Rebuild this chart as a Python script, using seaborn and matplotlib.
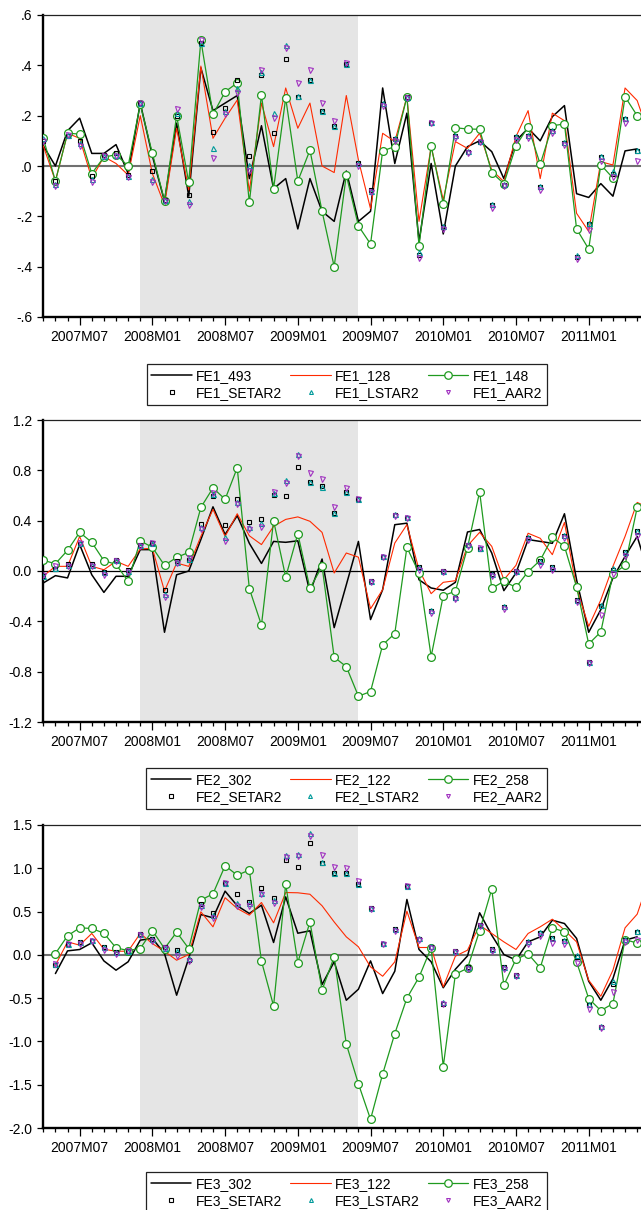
import numpy as np
import pandas as pd
import matplotlib
matplotlib.use("Agg")
import matplotlib.pyplot as plt
from matplotlib.lines import Line2D
import seaborn as sns

nan = np.nan

# ---------------- data ----------------
months = [f"{p.year}M{p.month:02d}" for p in pd.period_range("2007-04", "2011-06", freq="M")]
xtick_labels = ["2007M07", "2008M01", "2008M07", "2009M01", "2009M07", "2010M01", "2010M07", "2011M01"]
recession = ("2007M12", "2009M06")

# Panel 1
FE1_493 = [0.08, 0.0, 0.14, 0.19, 0.05, 0.05, 0.085, -0.03, 0.25, 0.04,
           -0.14, 0.17, -0.12, 0.39, 0.22, 0.25, 0.28, -0.05, 0.16, -0.09,
           -0.05, -0.25, -0.05, -0.18, -0.22, -0.02, -0.22, -0.18, 0.31, 0.01,
           0.21, -0.30, 0.01, -0.27, 0.0, 0.077, 0.10, 0.057, -0.05, 0.10,
           0.15, 0.10, 0.196, 0.24, -0.11, -0.125, -0.07, -0.12, 0.06, 0.068]
FE1_128 = [0.08, -0.06, 0.13, 0.11, -0.05, 0.037, 0.01, -0.036, 0.20, -0.03,
           -0.155, 0.15, -0.095, 0.397, 0.11, 0.19, 0.262, -0.10, 0.25, 0.077,
           0.31, 0.15, 0.25, 0.0, -0.026, 0.28, 0.024, -0.17, 0.13, 0.097,
           0.275, -0.22, 0.077, -0.135, 0.097, 0.07, 0.13, -0.016, -0.062, 0.117,
           0.22, -0.05, 0.21, 0.18, -0.188, -0.26, 0.017, 0.004, 0.31, 0.26,
           0.12]
FE1_148 = [0.11, -0.06, 0.13, 0.127, -0.03, 0.035, 0.045, 0.0, 0.245, 0.05,
           -0.138, 0.20, -0.065, 0.50, 0.205, 0.295, 0.33, -0.145, 0.283, -0.09,
           0.27, -0.06, 0.063, -0.18, -0.40, -0.036, -0.238, -0.31, 0.06, 0.077,
           0.275, -0.318, 0.08, -0.15, 0.152, 0.147, 0.146, -0.026, -0.07, 0.08,
           0.156, 0.007, 0.16, 0.167, -0.25, -0.33, 0.005, -0.048, 0.275, 0.20]
FE1_SETAR2 = [0.10, -0.06, 0.12, 0.10, -0.04, 0.045, 0.05, -0.035, 0.25, -0.02,
              -0.135, 0.20, -0.115, 0.49, 0.135, 0.23, 0.34, 0.04, 0.36, 0.13,
              0.425, 0.275, 0.34, 0.22, 0.16, 0.405, 0.01, -0.095, 0.246, 0.106,
              0.275, -0.354, 0.172, -0.244, 0.12, 0.057, 0.097, -0.155, -0.075, 0.114,
              0.12, -0.085, 0.14, 0.09, -0.363, -0.23, 0.034, -0.03, 0.187, 0.06]
FE1_LSTAR2 = [0.11, -0.07, 0.125, 0.09, -0.05, 0.04, 0.045, -0.04, 0.25, -0.05,
              -0.135, 0.21, -0.14, 0.49, 0.07, 0.22, 0.31, 0.005, 0.375, 0.21,
              0.48, 0.28, 0.34, 0.22, 0.16, 0.405, 0.01, -0.10, 0.25, 0.11,
              0.275, -0.34, 0.175, -0.24, 0.125, 0.06, 0.10, -0.15, -0.07, 0.12,
              0.125, -0.08, 0.145, 0.095, -0.355, -0.225, 0.04, -0.02, 0.19, 0.065]
FE1_AAR2 = [0.10, -0.08, 0.125, 0.08, -0.065, 0.04, 0.04, -0.045, 0.25, -0.065,
            -0.14, 0.225, -0.155, 0.50, 0.03, 0.205, 0.29, -0.02, 0.38, 0.19,
            0.47, 0.33, 0.38, 0.25, 0.18, 0.41, 0.0, -0.105, 0.24, 0.10,
            0.27, -0.365, 0.17, -0.25, 0.11, 0.05, 0.095, -0.165, -0.08, 0.105,
            0.11, -0.095, 0.13, 0.085, -0.37, -0.255, 0.02, -0.045, 0.17, 0.02]

# Panel 2
FE2_302 = [-0.095, -0.037, -0.055, 0.21, -0.03, -0.17, -0.042, -0.042, 0.17, 0.17,
           -0.487, -0.03, 0.0, 0.25, 0.51, 0.29, 0.44, 0.22, 0.06, 0.235,
           0.228, 0.24, -0.17, 0.095, -0.45, -0.11, 0.235, -0.386, -0.148, 0.368,
           0.38, -0.07, -0.135, -0.153, -0.09, 0.31, 0.33, 0.143, -0.156, -0.016,
           0.25, 0.235, 0.22, 0.455, -0.07, -0.487, -0.307, -0.055, 0.116, 0.275,
           -0.04]
FE2_122 = [-0.04, 0.037, 0.037, 0.275, 0.037, 0.01, 0.077, 0.037, 0.175, 0.18,
           -0.16, 0.063, 0.037, 0.275, 0.49, 0.275, 0.455, 0.28, 0.21, 0.355,
           0.41, 0.43, 0.395, 0.307, -0.016, 0.143, 0.11, -0.30, -0.148, 0.222,
           0.368, 0.01, -0.18, -0.09, -0.077, 0.20, 0.307, 0.196, -0.069, 0.045,
           0.30, 0.26, 0.13, 0.386, -0.135, -0.44, -0.23, 0.037, 0.275, 0.545,
           0.50]
FE2_258 = [0.085, 0.058, 0.164, 0.307, 0.228, 0.082, 0.053, -0.082, 0.24, 0.188,
           0.045, 0.108, 0.148, 0.505, 0.66, 0.57, 0.82, -0.14, -0.43, 0.40,
           -0.048, 0.296, -0.138, 0.037, -0.685, -0.76, -0.995, -0.958, -0.587, -0.497,
           0.188, -0.016, -0.68, -0.196, -0.161, 0.185, 0.63, -0.138, -0.082, -0.13,
           -0.005, 0.085, 0.267, 0.196, -0.127, -0.58, -0.484, -0.024, 0.045, 0.505]
FE2_SETAR2 = [-0.04, 0.016, 0.058, 0.217, 0.058, -0.01, 0.09, 0.005, 0.21, 0.222,
              -0.148, 0.077, 0.09, 0.373, 0.60, 0.362, 0.57, 0.39, 0.415, 0.605,
              0.598, 0.83, 0.71, 0.672, 0.46, 0.624, 0.57, -0.082, 0.114, 0.444,
              0.42, 0.032, -0.32, 0.0, -0.214, 0.21, 0.175, -0.02, -0.29, 0.0,
              0.265, 0.077, 0.03, 0.28, -0.233, -0.725, -0.28, 0.01, 0.148, 0.315]
FE2_LSTAR2 = [-0.04, 0.02, 0.05, 0.22, 0.05, -0.01, 0.09, 0.0, 0.21, 0.22,
              -0.18, 0.07, 0.095, 0.35, 0.61, 0.27, 0.55, 0.35, 0.38, 0.62,
              0.72, 0.93, 0.71, 0.67, 0.46, 0.63, 0.575, -0.08, 0.12, 0.45,
              0.43, 0.03, -0.31, 0.0, -0.21, 0.215, 0.18, -0.02, -0.28, 0.0,
              0.27, 0.08, 0.03, 0.29, -0.23, -0.72, -0.27, 0.02, 0.15, 0.32]
FE2_AAR2 = [-0.03, 0.04, 0.04, 0.22, 0.04, -0.03, 0.08, -0.01, 0.20, 0.225,
            -0.21, 0.06, 0.10, 0.33, 0.62, 0.24, 0.53, 0.33, 0.35, 0.63,
            0.70, 0.91, 0.78, 0.73, 0.51, 0.66, 0.57, -0.09, 0.11, 0.44,
            0.42, 0.01, -0.33, -0.01, -0.22, 0.20, 0.18, -0.04, -0.30, -0.01,
            0.25, 0.05, 0.01, 0.26, -0.25, -0.73, -0.35, -0.02, 0.12, 0.28]

# Panel 3
FE3_302 = [nan, -0.216, 0.046, 0.062, 0.139, -0.07, -0.177, -0.08, 0.17, 0.19,
           0.015, -0.466, -0.04, 0.466, 0.428, 0.736, 0.567, 0.478, 0.574, 0.143,
           0.67, 0.25, 0.278, -0.343, -0.08, -0.524, -0.397, -0.07, -0.447, -0.189,
           0.64, 0.062, -0.08, -0.38, -0.166, -0.012, 0.486, 0.227, 0.004, -0.06,
           0.15, 0.208, 0.40, 0.362, 0.19, -0.305, -0.524, -0.274, 0.17, 0.208]
FE3_122 = [nan, -0.12, 0.15, 0.112, 0.247, 0.065, 0.042, 0.042, 0.247, 0.13,
           0.042, -0.062, 0.004, 0.497, 0.324, 0.66, 0.536, 0.459, 0.605, 0.37,
           0.72, 0.717, 0.70, 0.567, 0.38, 0.208, 0.093, -0.139, -0.247, -0.081,
           0.505, 0.085, 0.085, -0.37, -0.015, 0.054, 0.343, 0.247, 0.15, 0.062,
           0.247, 0.324, 0.412, 0.285, 0.15, -0.293, -0.478, -0.177, 0.312, 0.47,
           0.88]
FE3_258 = [nan, 0.015, 0.22, 0.312, 0.305, 0.25, 0.081, 0.05, 0.073, 0.28,
           0.073, 0.262, 0.073, 0.632, 0.705, 1.03, 0.92, 0.98, -0.073, -0.59,
           0.817, -0.089, 0.38, -0.405, -0.023, -1.03, -1.49, -1.90, -1.376, -0.91,
           -0.50, -0.258, 0.081, -1.29, -0.224, -0.154, 0.28, 0.76, -0.35, -0.05,
           0.012, -0.15, 0.312, 0.266, -0.081, -0.505, -0.644, -0.563, 0.177, 0.135]
FE3_SETAR2 = [nan, -0.112, 0.13, 0.146, 0.162, 0.096, 0.035, 0.042, 0.243, 0.18,
              0.085, 0.054, -0.054, 0.582, 0.482, 0.825, 0.698, 0.613, 0.775, 0.66,
              1.099, 1.01, 1.288, 1.056, 0.94, 0.948, 0.813, 0.536, 0.13, 0.293,
              0.794, 0.18, 0.093, -0.563, 0.042, -0.146, 0.343, 0.065, -0.146, -0.235,
              0.15, 0.247, 0.197, 0.158, -0.023, -0.582, -0.833, -0.332, 0.177, 0.266]
FE3_LSTAR2 = [nan, -0.10, 0.13, 0.15, 0.17, 0.09, 0.03, 0.04, 0.24, 0.18,
              0.08, 0.04, -0.04, 0.58, 0.46, 0.83, 0.60, 0.60, 0.72, 0.63,
              1.15, 1.16, 1.41, 1.07, 0.95, 0.95, 0.82, 0.54, 0.14, 0.30,
              0.80, 0.19, 0.10, -0.55, 0.05, -0.14, 0.35, 0.07, -0.14, -0.23,
              0.16, 0.26, 0.20, 0.17, 0.0, -0.57, -0.82, -0.30, 0.18, 0.27]
FE3_AAR2 = [nan, -0.10, 0.12, 0.12, 0.16, 0.06, 0.01, 0.04, 0.23, 0.16,
            0.08, -0.01, -0.07, 0.55, 0.43, 0.83, 0.56, 0.56, 0.70, 0.60,
            1.13, 1.14, 1.37, 1.15, 1.02, 1.00, 0.85, 0.53, 0.12, 0.28,
            0.79, 0.17, 0.08, -0.57, 0.03, -0.16, 0.33, 0.05, -0.16, -0.24,
            0.13, 0.22, 0.14, 0.13, -0.09, -0.62, -0.84, -0.43, 0.15, 0.17]

panels = [
    dict(prefix="FE1", lines=[("FE1_493", FE1_493), ("FE1_128", FE1_128), ("FE1_148", FE1_148)],
         marks=[("FE1_SETAR2", FE1_SETAR2), ("FE1_LSTAR2", FE1_LSTAR2), ("FE1_AAR2", FE1_AAR2)],
         ylim=(-0.6, 0.6), yticks=[-0.6, -0.4, -0.2, 0.0, 0.2, 0.4, 0.6],
         yticklabels=["-.6", "-.4", "-.2", ".0", ".2", ".4", ".6"], zero=("#707070", 1.5)),
    dict(prefix="FE2", lines=[("FE2_302", FE2_302), ("FE2_122", FE2_122), ("FE2_258", FE2_258)],
         marks=[("FE2_SETAR2", FE2_SETAR2), ("FE2_LSTAR2", FE2_LSTAR2), ("FE2_AAR2", FE2_AAR2)],
         ylim=(-1.2, 1.2), yticks=[-1.2, -0.8, -0.4, 0.0, 0.4, 0.8, 1.2],
         yticklabels=["-1.2", "-0.8", "-0.4", "0.0", "0.4", "0.8", "1.2"], zero=("#000000", 0.9)),
    dict(prefix="FE3", lines=[("FE3_302", FE3_302), ("FE3_122", FE3_122), ("FE3_258", FE3_258)],
         marks=[("FE3_SETAR2", FE3_SETAR2), ("FE3_LSTAR2", FE3_LSTAR2), ("FE3_AAR2", FE3_AAR2)],
         ylim=(-2.0, 1.5), yticks=[-2.0, -1.5, -1.0, -0.5, 0.0, 0.5, 1.0, 1.5],
         yticklabels=["-2.0", "-1.5", "-1.0", "-0.5", "0.0", "0.5", "1.0", "1.5"], zero=("#707070", 1.5)),
]

# ---------------- style ----------------
sns.set_theme(style="ticks", context="paper")
plt.rcParams["font.family"] = ["Liberation Sans", "DejaVu Sans"]
plt.rcParams["text.color"] = "black"
plt.rcParams["axes.labelcolor"] = "black"
plt.rcParams["xtick.color"] = "black"
plt.rcParams["ytick.color"] = "black"

BLACK = "#000000"
RED = "#ff2a00"
GREEN = "#1f9a1f"
TEAL = "#009a9a"
PURPLE = "#a030c0"

line_styles = [
    dict(color=BLACK, lw=1.1),
    dict(color=RED, lw=0.8),
    dict(color=GREEN, lw=0.9, marker="o", markersize=5.6, markerfacecolor="white",
         markeredgecolor=GREEN, markeredgewidth=0.9),
]
mark_styles = [
    dict(marker="s", color=BLACK, markersize=3.0, markerfacecolor="none",
         markeredgecolor=BLACK, markeredgewidth=0.8),
    dict(marker="^", color=TEAL, markersize=3.6, markerfacecolor="none",
         markeredgecolor=TEAL, markeredgewidth=0.8),
    dict(marker="v", color=PURPLE, markersize=3.6, markerfacecolor="none",
         markeredgecolor=PURPLE, markeredgewidth=0.8),
]

W, H = 641, 1210
fig = plt.figure(figsize=(W / 100, H / 100), dpi=100)
fig.patch.set_facecolor("white")

ax_left, ax_right = 43.3, 650.0
ax_tops = [15, 420, 825]
ax_bots = [317, 722, 1128]
leg_tops = [364, 768, 1172]
month_px = 12.12
xmax = (ax_right - ax_left) / month_px

xs = np.arange(len(months), dtype=float)


def pad(v):
    v = list(v)
    return np.array(v + [nan] * (len(months) - len(v)), dtype=float)


major_pos = [months.index(m) for m in xtick_labels]
rec0, rec1 = months.index(recession[0]), months.index(recession[1])

for k, p in enumerate(panels):
    ax = fig.add_axes([ax_left / W, 1 - ax_bots[k] / H,
                       (ax_right - ax_left) / W, (ax_bots[k] - ax_tops[k]) / H])
    ax.set_facecolor("white")
    ax.axvspan(rec0, rec1, color="#e5e5e5", lw=0, zorder=0)
    ax.axhline(0, color=p["zero"][0], lw=p["zero"][1], zorder=1)

    for j, ((name, vals), st) in enumerate(zip(p["lines"], line_styles)):
        df = pd.DataFrame({"x": xs, "y": pad(vals)}).dropna()
        sns.lineplot(data=df, x="x", y="y", ax=ax, zorder=2 + j, **st)
    for j, ((name, vals), st) in enumerate(zip(p["marks"], mark_styles)):
        df = pd.DataFrame({"x": xs, "y": pad(vals)}).dropna()
        sns.lineplot(data=df, x="x", y="y", ax=ax, linestyle="none", zorder=6 + j, **st)

    ax.set_xlim(0, xmax)
    ax.set_ylim(*p["ylim"])
    ax.set_xlabel("")
    ax.set_ylabel("")
    ax.set_xticks(major_pos)
    ax.set_xticklabels(xtick_labels)
    ax.set_xticks(np.arange(len(months)), minor=True)
    ax.set_yticks(p["yticks"])
    ax.set_yticklabels(p["yticklabels"])
    ax.tick_params(axis="x", which="major", length=6, width=0.9, direction="out",
                   labelsize=10, pad=3, bottom=True)
    ax.tick_params(axis="x", which="minor", length=3, width=0.9, direction="out", bottom=True)
    ax.tick_params(axis="y", which="major", length=4, width=0.9, direction="out",
                   labelsize=10, pad=4, left=True)
    for s in ["left", "bottom"]:
        ax.spines[s].set_linewidth(1.7)
        ax.spines[s].set_color("black")
    ax.spines["top"].set_visible(True)
    ax.spines["top"].set_linewidth(0.9)
    ax.spines["top"].set_color("#222222")
    ax.spines["right"].set_visible(False)
    if ax.get_legend() is not None:
        ax.get_legend().remove()

    # legend proxies
    handles = [
        Line2D([], [], color=BLACK, lw=1.1),
        Line2D([], [], linestyle="none", marker="s", markersize=2.4, markerfacecolor="none",
               markeredgecolor=BLACK, markeredgewidth=0.8),
        Line2D([], [], color=RED, lw=0.8),
        Line2D([], [], linestyle="none", marker="^", markersize=2.8, markerfacecolor="none",
               markeredgecolor=TEAL, markeredgewidth=0.8),
        Line2D([], [], color=GREEN, lw=0.9, marker="o", markersize=5.4, markerfacecolor="white",
               markeredgecolor=GREEN, markeredgewidth=0.9),
        Line2D([], [], linestyle="none", marker="v", markersize=2.8, markerfacecolor="none",
               markeredgecolor=PURPLE, markeredgewidth=0.8),
    ]
    labels = [p["lines"][0][0], p["marks"][0][0], p["lines"][1][0],
              p["marks"][1][0], p["lines"][2][0], p["marks"][2][0]]
    leg = fig.legend(handles, labels, loc="upper center",
                     bbox_to_anchor=(((ax_left + ax_right) / 2) / W, 1 - leg_tops[k] / H),
                     ncol=3, frameon=True, fancybox=False, framealpha=1, edgecolor="#222222",
                     handlelength=2.9, handletextpad=0.3, columnspacing=0.6,
                     labelspacing=0.22, borderpad=0.35, borderaxespad=0.0, fontsize=10)
    leg.get_frame().set_linewidth(0.9)

fig.savefig("out.png", dpi=100, facecolor="white")
